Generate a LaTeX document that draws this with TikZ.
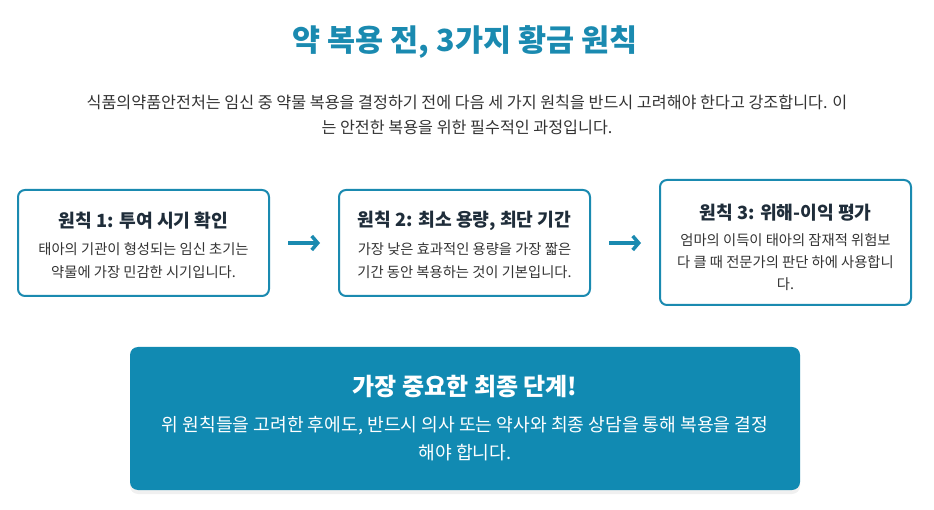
\documentclass[tikz,border=0pt]{standalone}
\usepackage{fontspec}
\setmainfont{Noto Sans CJK KR}
\usepackage{tikz}
\usetikzlibrary{arrows.meta,shadows}

\definecolor{teal}{HTML}{1A8AB0}
\definecolor{stepfill}{HTML}{118AB2}
\definecolor{headtext}{HTML}{1F2D3A}
\definecolor{bodytext}{HTML}{333333}

\begin{document}
\begin{tikzpicture}[x=1pt,y=-1pt]
\useasboundingbox (0,0) rectangle (934,510);

% heading
\node[text=teal,font=\fontsize{30.5}{34}\selectfont\bfseries] (title) at (465,42) {약 복용 전, 3가지 황금 원칙};
\node[text=bodytext,align=center,font=\fontsize{16.2}{25}\selectfont] (intro) at (467,115)
    {식품의약품안전처는 임신 중 약물 복용을 결정하기 전에 다음 세 가지 원칙을 반드시 고려해야 한다고 강조합니다. 이\\는 안전한 복용을 위한 필수적인 과정입니다.};

\begin{scope}[every node/.style={draw=teal,line width=2pt,rounded corners=7pt,fill=white,
              minimum width=251pt,inner sep=0pt}]
    \node[minimum height=106pt] (p1) at (143.5,243) {};
    \node[minimum height=106pt] (p2) at (464.5,243) {};
    \node[minimum height=125pt] (p3) at (785.5,242.5) {};
\end{scope}

\begin{scope}[every node/.style={text=headtext,font=\fontsize{18.2}{21}\selectfont\bfseries}]
    \node (t1) at (143.5,221) {원칙 1: 투여 시기 확인};
    \node (t2) at (464.5,221) {원칙 2: 최소 용량, 최단 기간};
    \node (t3) at (785.5,213) {원칙 3: 위해-이익 평가};
\end{scope}

\begin{scope}[every node/.style={text=bodytext,align=center,font=\fontsize{14.3}{23}\selectfont}]
    \node (d1) at (143.5,260.5) {태아의 기관이 형성되는 임신 초기는\\약물에 가장 민감한 시기입니다.};
    \node (d2) at (464.5,260.5) {가장 낮은 효과적인 용량을 가장 짧은\\기간 동안 복용하는 것이 기본입니다.};
    \node[font=\fontsize{14.3}{22}\selectfont] (d3) at (785.5,262) {엄마의 이득이 태아의 잠재적 위험보\\다 클 때 전문가의 판단 하에 사용합니\\다.};
\end{scope}

\begin{scope}[>={Straight Barb[length=6pt,width=14pt,line width=3.5pt]},
              every edge/.style={draw=teal,line width=4pt,shorten <=18pt,shorten >=18pt}]
    \path [->] (p1.east) edge (p2.west);
    \path [->] (p2.east) edge (p2.east -| p3.west);
\end{scope}

% final step
\node[fill=stepfill,rounded corners=8pt,minimum width=670pt,minimum height=143pt,
      drop shadow={shadow xshift=0pt,shadow yshift=-4pt,opacity=0.12}] (final) at (465,418.5) {};
\node[text=white,font=\fontsize{24}{27}\selectfont\bfseries] (ft) at (465,387) {가장 중요한 최종 단계!};
\node[text=white,align=center,font=\fontsize{18.2}{28}\selectfont] (fd) at (465,439)
    {위 원칙들을 고려한 후에도, 반드시 의사 또는 약사와 최종 상담을 통해 복용을 결정\\해야 합니다.};
\end{tikzpicture}
\end{document}
